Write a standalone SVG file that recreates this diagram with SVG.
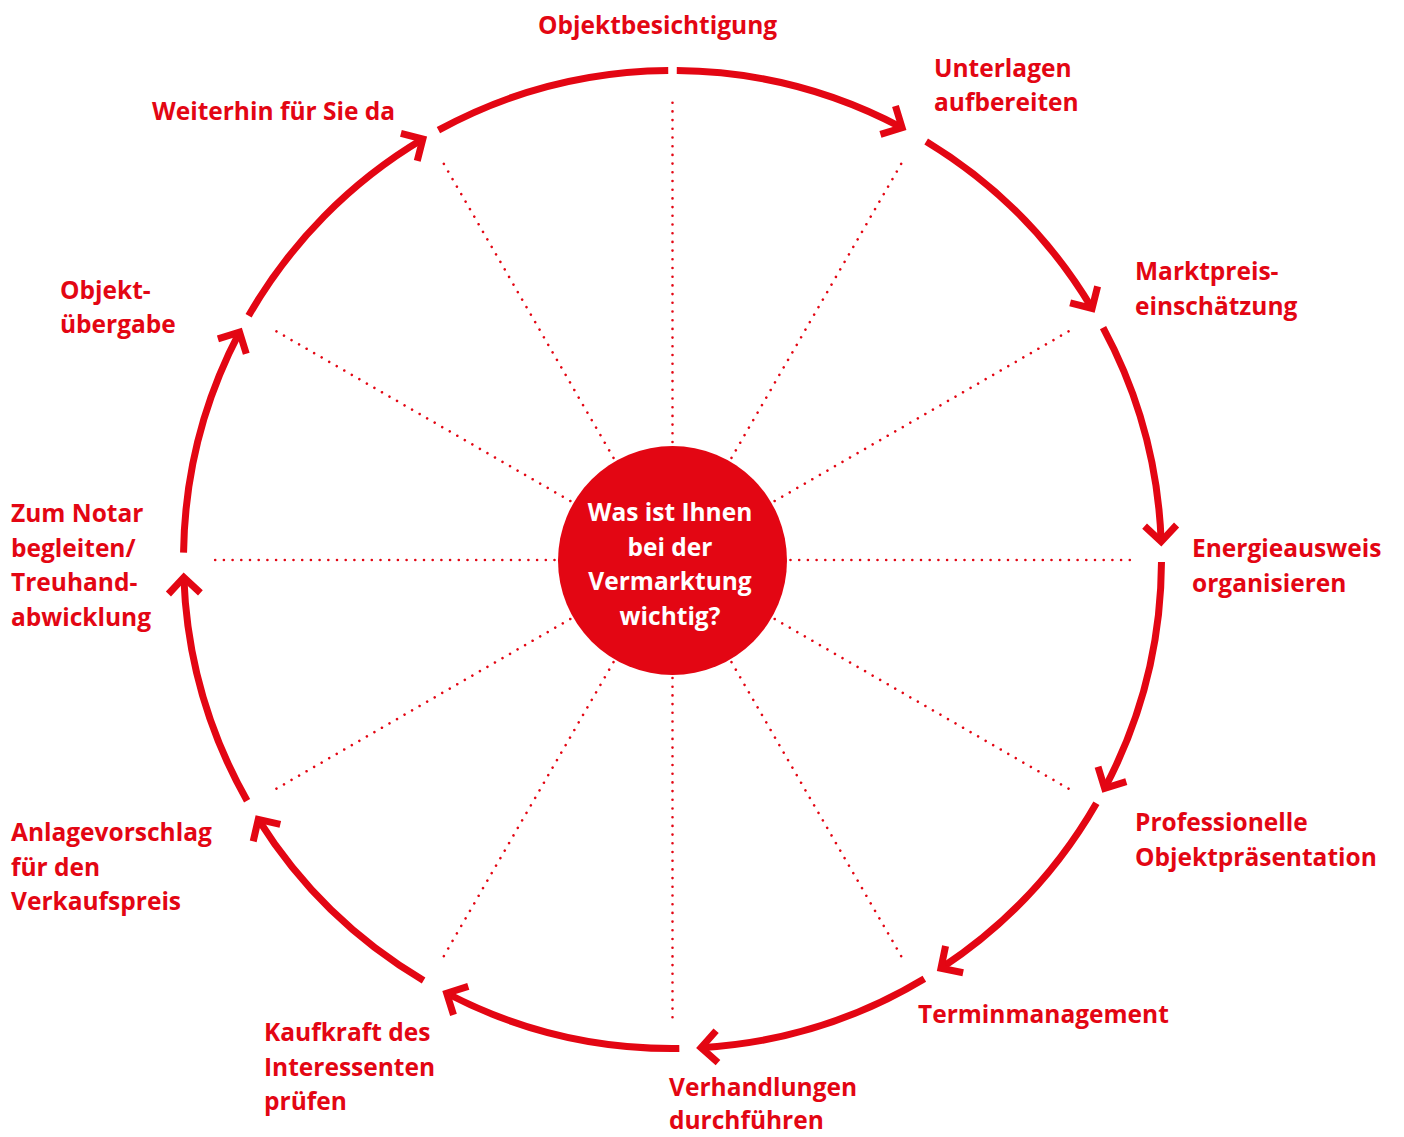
<svg xmlns="http://www.w3.org/2000/svg" width="1404" height="1137" viewBox="0 0 1404 1137">
<style>
.ring{fill:none;stroke:#E30613;stroke-width:7;stroke-linecap:butt}
.spoke{fill:none;stroke:#E30613;stroke-width:2.6;stroke-linecap:round;stroke-dasharray:0 8.7}
.lbl{font-family:"Open Sans","Liberation Sans",sans-serif;font-weight:700;font-size:24.5px;fill:#E30613}
.ctr{font-family:"Open Sans","Liberation Sans",sans-serif;font-weight:700;font-size:24.5px;fill:#FFFFFF;text-anchor:middle}
</style>
<defs>
<marker id="arrow" markerUnits="userSpaceOnUse" viewBox="-30 -30 40 60" refX="0" refY="0" markerWidth="40" markerHeight="60" orient="auto" overflow="visible">
<path d="M -16 -16 L 0 0 L -16 16" fill="none" stroke="#E30613" stroke-width="7" stroke-linejoin="miter" stroke-miterlimit="10"/>
</marker>
</defs>
<rect width="1404" height="1137" fill="#FFFFFF"/>
<g id="connectors">
<g id="spokes">
<line class="spoke" x1="672.5" y1="442" x2="672.5" y2="97" transform="rotate(0 672.5 560)"/>
<line class="spoke" x1="672.5" y1="442" x2="672.5" y2="97" transform="rotate(30 672.5 560)"/>
<line class="spoke" x1="672.5" y1="442" x2="672.5" y2="97" transform="rotate(60 672.5 560)"/>
<line class="spoke" x1="672.5" y1="442" x2="672.5" y2="97" transform="rotate(90 672.5 560)"/>
<line class="spoke" x1="672.5" y1="442" x2="672.5" y2="97" transform="rotate(120 672.5 560)"/>
<line class="spoke" x1="672.5" y1="442" x2="672.5" y2="97" transform="rotate(150 672.5 560)"/>
<line class="spoke" x1="672.5" y1="442" x2="672.5" y2="97" transform="rotate(180 672.5 560)"/>
<line class="spoke" x1="672.5" y1="442" x2="672.5" y2="97" transform="rotate(210 672.5 560)"/>
<line class="spoke" x1="672.5" y1="442" x2="672.5" y2="97" transform="rotate(240 672.5 560)"/>
<line class="spoke" x1="672.5" y1="442" x2="672.5" y2="97" transform="rotate(270 672.5 560)"/>
<line class="spoke" x1="672.5" y1="442" x2="672.5" y2="97" transform="rotate(300 672.5 560)"/>
<line class="spoke" x1="672.5" y1="442" x2="672.5" y2="97" transform="rotate(330 672.5 560)"/>
</g>
<g id="ring">
<path class="ring" d="M 676.77 70.52 A 489 489 0 0 1 902.07 127.74" marker-end="url(#arrow)"/>
<path class="ring" d="M 926.18 141.45 A 489 489 0 0 1 1092.09 308.38" marker-end="url(#arrow)"/>
<path class="ring" d="M 1103.05 327.67 A 489 489 0 0 1 1161.17 541.58" marker-end="url(#arrow)"/>
<path class="ring" d="M 1161.49 562.06 A 489 489 0 0 1 1104.66 788.32" marker-end="url(#arrow)"/>
<path class="ring" d="M 1096.41 803.26 A 489 489 0 0 1 940.97 968.21" marker-end="url(#arrow)"/>
<path class="ring" d="M 924.35 978.65 A 489 489 0 0 1 701.07 1047.66" marker-end="url(#arrow)"/>
<path class="ring" d="M 679.33 1048.45 A 489 489 0 0 1 446.70 993.25" marker-end="url(#arrow)"/>
<path class="ring" d="M 423.58 980.40 A 489 489 0 0 1 258.26 819.35" marker-end="url(#arrow)"/>
<path class="ring" d="M 247.09 800.68 A 489 489 0 0 1 183.83 577.42" marker-end="url(#arrow)"/>
<path class="ring" d="M 183.55 552.67 A 489 489 0 0 1 239.54 332.19" marker-end="url(#arrow)"/>
<path class="ring" d="M 248.59 315.74 A 489 489 0 0 1 422.84 139.03" marker-end="url(#arrow)"/>
<path class="ring" d="M 438.42 130.17 A 489 489 0 0 1 668.23 70.52"/>
</g>
</g>
<g id="center">
<circle cx="672.5" cy="560.5" r="114.5" fill="#E30613"/>
<text class="ctr" x="670" y="521">Was ist Ihnen</text>
<text class="ctr" x="670" y="555.5">bei der</text>
<text class="ctr" x="670" y="590">Vermarktung</text>
<text class="ctr" x="670" y="624.5">wichtig?</text>
</g>
<g id="n-objektbesichtigung"><text class="lbl" x="538" y="34">Objektbesichtigung</text></g>
<g id="n-unterlagen"><text class="lbl" x="934" y="77">Unterlagen</text><text class="lbl" x="934" y="111">aufbereiten</text></g>
<g id="n-marktpreis"><text class="lbl" x="1135" y="280">Marktpreis-</text><text class="lbl" x="1135" y="315">einschätzung</text></g>
<g id="n-energieausweis"><text class="lbl" x="1192" y="557">Energieausweis</text><text class="lbl" x="1192" y="592">organisieren</text></g>
<g id="n-praesentation"><text class="lbl" x="1135" y="831">Professionelle</text><text class="lbl" x="1135" y="866">Objektpräsentation</text></g>
<g id="n-termin"><text class="lbl" x="918" y="1023">Terminmanagement</text></g>
<g id="n-verhandlungen"><text class="lbl" x="669" y="1096">Verhandlungen</text><text class="lbl" x="669" y="1129">durchführen</text></g>
<g id="n-kaufkraft"><text class="lbl" x="264" y="1041">Kaufkraft des</text><text class="lbl" x="264" y="1076">Interessenten</text><text class="lbl" x="264" y="1110">prüfen</text></g>
<g id="n-anlagevorschlag"><text class="lbl" x="11" y="841">Anlagevorschlag</text><text class="lbl" x="11" y="876">für den</text><text class="lbl" x="11" y="910">Verkaufspreis</text></g>
<g id="n-notar"><text class="lbl" x="11" y="522">Zum Notar</text><text class="lbl" x="11" y="557">begleiten/</text><text class="lbl" x="11" y="591">Treuhand-</text><text class="lbl" x="11" y="626">abwicklung</text></g>
<g id="n-uebergabe"><text class="lbl" x="60" y="299">Objekt-</text><text class="lbl" x="60" y="333">übergabe</text></g>
<g id="n-weiterhin"><text class="lbl" x="152" y="120">Weiterhin für Sie da</text></g>
</svg>
